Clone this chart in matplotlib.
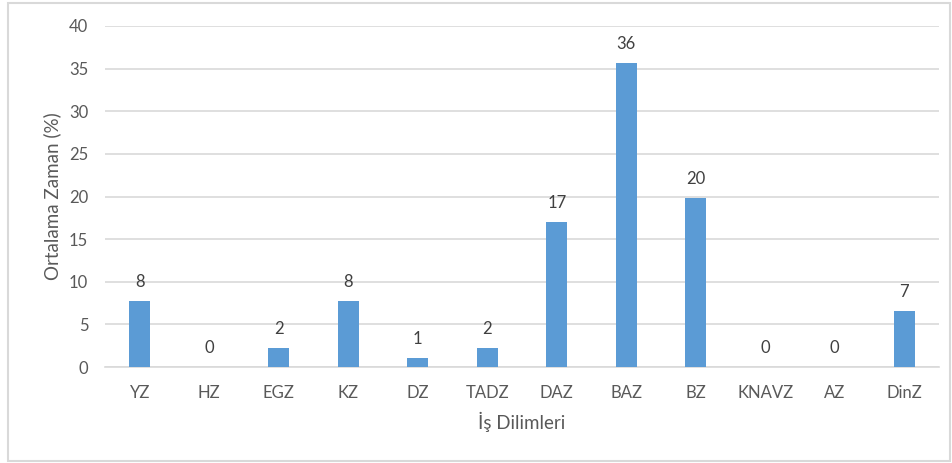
import matplotlib
matplotlib.use("Agg")
import matplotlib.pyplot as plt
from matplotlib.patches import Rectangle

categories = ["YZ", "HZ", "EGZ", "KZ", "DZ", "TADZ", "DAZ", "BAZ", "BZ", "KNAVZ", "AZ", "DinZ"]
values = [7.7, 0.0, 2.2, 7.7, 1.1, 2.2, 17.0, 35.7, 19.8, 0.0, 0.0, 6.6]
y_ticks = [0, 5, 10, 15, 20, 25, 30, 35, 40]
x_title = "İş Dilimleri"
y_title = "Ortalama Zaman (%)"

plt.rcParams["font.family"] = ["Lato", "DejaVu Sans"]
text_color = "#595959"
bar_color = "#5B9BD5"
grid_color = "#D9D9D9"

fig = plt.figure(figsize=(9.53, 4.63), dpi=100)
ax = fig.add_axes([105 / 953, (463 - 367) / 463, (939 - 105) / 953, (367 - 26) / 463])

x = range(len(categories))
bars = ax.bar(x, values, width=0.3, color=bar_color, zorder=3)
for b, v in zip(bars, values):
    ax.annotate(f"{v:.0f}", (b.get_x() + b.get_width() / 2, v),
                xytext=(0, 8), textcoords="offset points",
                ha="center", va="bottom", fontsize=12, color="#404040")

ax.set_xlim(-0.5, len(categories) - 0.5)
ax.set_ylim(0, 40)
ax.set_yticks(y_ticks)
ax.set_xticks(list(x))
ax.set_xticklabels(categories)
ax.tick_params(axis="both", length=0, labelsize=12, labelcolor=text_color)
ax.tick_params(axis="x", pad=13)
ax.tick_params(axis="y", pad=12)
ax.yaxis.grid(True, color=grid_color, linewidth=1.2, zorder=0)
for s in ["top", "right", "left"]:
    ax.spines[s].set_visible(False)
ax.spines["bottom"].set_color(grid_color)
ax.spines["bottom"].set_linewidth(1.2)

ax.set_xlabel(x_title, fontsize=13.5, color=text_color, labelpad=8)
ax.set_ylabel(y_title, fontsize=13.5, color=text_color, labelpad=6)

# light chart border
fig.patches.append(Rectangle((8 / 953, 2 / 463), 942 / 953, 458 / 463,
                             transform=fig.transFigure, fill=False,
                             edgecolor=grid_color, linewidth=1.5))

fig.savefig("out.png", dpi=100)
